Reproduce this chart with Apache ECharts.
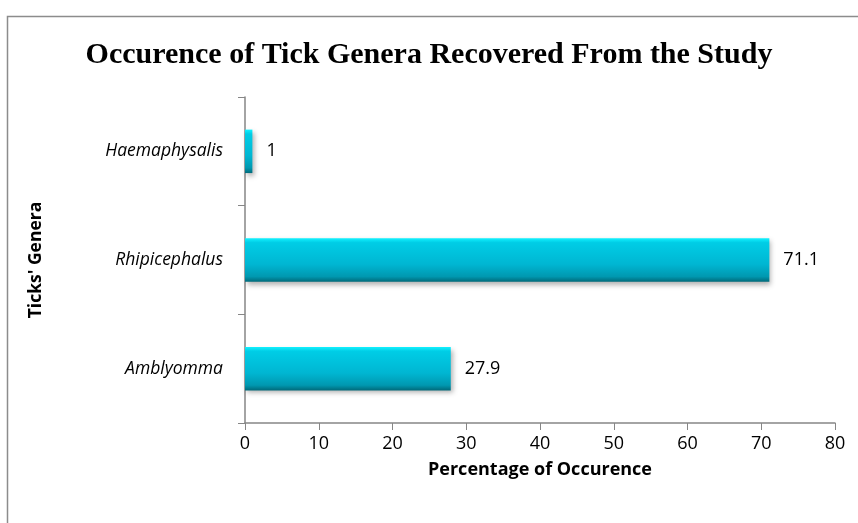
<!DOCTYPE html>
<html><head><meta charset="utf-8">
<script src="https://cdn.jsdelivr.net/npm/echarts@6/dist/echarts.min.js"></script>
<style>html,body{margin:0;padding:0;background:#fff}#c{width:858px;height:523px}</style>
</head><body><div id="c"></div>
<script>
const categories = ['Amblyomma', 'Rhipicephalus', 'Haemaphysalis'];
const values = [27.9, 71.1, 1];
const xTicks = [0, 10, 20, 30, 40, 50, 60, 70, 80];
const titleText = 'Occurence of Tick Genera Recovered From the Study';
const xName = 'Percentage of Occurence';
const yName = "Ticks' Genera";

const chart = echarts.init(document.getElementById('c'));
chart.setOption({
  animation: false,
  backgroundColor: '#fff',
  graphic: [{
    type: 'rect', left: 5, top: 14, silent: true,
    shape: { width: 860, height: 520 },
    style: { fill: 'none', stroke: '#8c8c8c', lineWidth: 1.5 }
  }],
  title: {
    text: titleText, left: 'center', top: 35,
    textStyle: { fontFamily: 'Liberation Serif', fontWeight: 'bold', fontSize: 30, color: '#000' }
  },
  grid: { left: 245, right: 23, top: 97, bottom: 100, containLabel: false },
  xAxis: {
    type: 'value', min: xTicks[0], max: xTicks[xTicks.length - 1], interval: 10,
    name: xName, nameLocation: 'middle', nameGap: 38,
    nameTextStyle: { fontFamily: 'Open Sans', fontWeight: 'bold', fontSize: 18, color: '#000' },
    axisLine: { show: true, lineStyle: { color: '#868686', width: 1.5 } },
    axisTick: { show: true, length: 7, inside: false, lineStyle: { color: '#868686' } },
    axisLabel: { fontFamily: 'Open Sans', fontSize: 18, color: '#000', margin: 12 },
    splitLine: { show: false }
  },
  yAxis: {
    type: 'category', data: categories,
    name: yName, nameLocation: 'middle', nameGap: 200, nameRotate: 90,
    nameTextStyle: { fontFamily: 'Open Sans', fontWeight: 'bold', fontSize: 17.5, color: '#000' },
    axisLine: { show: true, lineStyle: { color: '#868686', width: 1.5 } },
    axisTick: { show: true, length: 7, lineStyle: { color: '#868686' } },
    axisLabel: { fontFamily: 'Open Sans', fontStyle: 'italic', fontSize: 17.5, color: '#000', margin: 22 }
  },
  series: [{
    type: 'bar', data: values, barWidth: '40%',
    itemStyle: {
      color: new echarts.graphic.LinearGradient(0, 0, 0, 1, [
        { offset: 0, color: '#12f2ff' },
        { offset: 0.1, color: '#00cde6' },
        { offset: 0.6, color: '#00b6d2' },
        { offset: 0.88, color: '#0098b0' },
        { offset: 1, color: '#006a7a' }
      ]),
      shadowColor: 'rgba(0,0,0,0.3)', shadowBlur: 5, shadowOffsetY: 3, shadowOffsetX: 2
    },
    label: {
      show: true, position: 'right', distance: 14,
      fontFamily: 'Open Sans', fontSize: 18, color: '#000'
    }
  }]
});
</script>
</body></html>
